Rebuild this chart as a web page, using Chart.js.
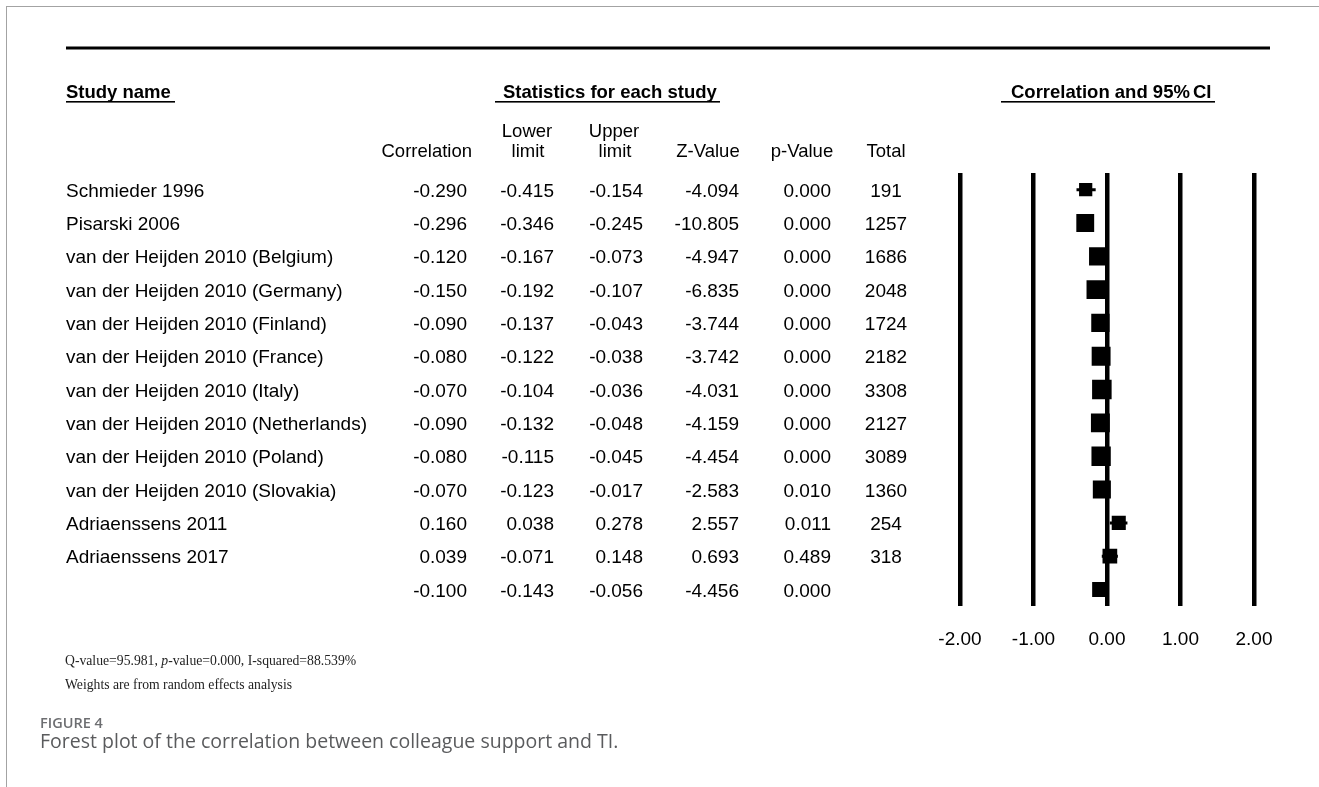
<!DOCTYPE html>
<html>
<head>
<meta charset="utf-8">
<title>Forest plot – colleague support and TI</title>
<script src="https://cdn.jsdelivr.net/npm/chart.js@4.4.1/dist/chart.umd.min.js"></script>
<style>
  html, body { margin: 0; padding: 0; background: #fff; }
  body { width: 1319px; height: 787px; position: relative; overflow: hidden; }
  #frame {
    position: absolute; left: 6px; top: 6px; width: 1320px; height: 790px;
    border-left: 1px solid #a3a3a3; border-top: 1px solid #a3a3a3;
  }
  #plot { position: absolute; left: 0; top: 0; }
  .fig-label {
    position: absolute; left: 40px; top: 713px;
    font: 600 14.5px "Open Sans", "Noto Sans", sans-serif; color: #6d6e71;
  }
  .fig-caption {
    position: absolute; left: 40px; top: 727px;
    font: 400 19.5px "Open Sans", "Noto Sans", sans-serif; color: #5a5b5d;
  }
</style>
</head>
<body>
<div id="frame"></div>
<canvas id="plot" width="1319" height="787"></canvas>
<div class="fig-label">FIGURE 4</div>
<div class="fig-caption">Forest plot of the correlation between colleague support and TI.</div>

<script>
// --- Study data (last row is the pooled estimate) ---
const studyNames = [
  'Schmieder 1996',
  'Pisarski 2006',
  'van der Heijden 2010 (Belgium)',
  'van der Heijden 2010 (Germany)',
  'van der Heijden 2010 (Finland)',
  'van der Heijden 2010 (France)',
  'van der Heijden 2010 (Italy)',
  'van der Heijden 2010 (Netherlands)',
  'van der Heijden 2010 (Poland)',
  'van der Heijden 2010 (Slovakia)',
  'Adriaenssens 2011',
  'Adriaenssens 2017',
  ''
];
const correlation = [-0.290, -0.296, -0.120, -0.150, -0.090, -0.080, -0.070, -0.090, -0.080, -0.070, 0.160, 0.039, -0.100];
const lowerLimit  = [-0.415, -0.346, -0.167, -0.192, -0.137, -0.122, -0.104, -0.132, -0.115, -0.123, 0.038, -0.071, -0.143];
const upperLimit  = [-0.154, -0.245, -0.073, -0.107, -0.043, -0.038, -0.036, -0.048, -0.045, -0.017, 0.278, 0.148, -0.056];
const zValue      = [-4.094, -10.805, -4.947, -6.835, -3.744, -3.742, -4.031, -4.159, -4.454, -2.583, 2.557, 0.693, -4.456];
const pValue      = [0.000, 0.000, 0.000, 0.000, 0.000, 0.000, 0.000, 0.000, 0.000, 0.010, 0.011, 0.489, 0.000];
const totalN      = [191, 1257, 1686, 2048, 1724, 2182, 3308, 2127, 3089, 1360, 254, 318, null];
// relative random-effects weight (%) per study, sets the square size
const weights     = [6.3, 8.5, 8.7, 9.0, 8.7, 9.0, 9.3, 9.0, 9.2, 8.6, 6.7, 7.0, null];
const xTicks = [-2, -1, 0, 1, 2];

const SANS = '"Liberation Sans", Arial, sans-serif';
const SERIF = '"Liberation Serif", "Times New Roman", serif';
const summaryRow = studyNames.length - 1;

// square side in px -> Chart.js 'rect' radius
const sideToRadius = side => side / Math.SQRT2;
const squareRadius = i => i === summaryRow ? sideToRadius(15) : sideToRadius(weights[i] * 2.1);

// confidence interval segments, separated by gaps
const whiskerData = [];
correlation.forEach((_, i) => {
    whiskerData.push({ x: lowerLimit[i], y: i }, { x: upperLimit[i], y: i }, { x: null, y: null });
});

const underline = (ctx, x1, x2, y) => {
    ctx.fillRect(x1, y, x2 - x1, 1.6);
};

// Table columns, header and footnotes drawn next to the plot rows
const tablePlugin = {
    id: 'studyTable',
    afterDraw: (chart) => {
        const { ctx } = chart;
        const yScale = chart.scales.y;
        ctx.save();
        ctx.fillStyle = '#000';
        ctx.textBaseline = 'alphabetic';

        // top rule
        ctx.fillRect(66, 46.5, 1204, 3);

        // group headings
        ctx.font = `bold 18.5px ${SANS}`;
        ctx.textAlign = 'left';
        ctx.fillText('Study name', 66, 97.5);
        underline(ctx, 66, 175, 101);
        ctx.fillText('Statistics for each study', 503, 97.5);
        underline(ctx, 495, 720, 101);
        ctx.fillText('Correlation and 95%\u2006CI', 1011, 97.5);
        underline(ctx, 1001, 1215, 101);

        // column headings
        ctx.font = `18.5px ${SANS}`;
        ctx.textAlign = 'right';
        ctx.fillText('Correlation', 472, 157);
        ctx.textAlign = 'center';
        ctx.fillText('Lower', 527, 136.5);
        ctx.fillText('limit', 528, 157);
        ctx.fillText('Upper', 614, 136.5);
        ctx.fillText('limit', 615, 157);
        ctx.fillText('Z-Value', 708, 157);
        ctx.fillText('p-Value', 802, 157);
        ctx.fillText('Total', 886, 157);

        // one line per study
        ctx.font = `19px ${SANS}`;
        studyNames.forEach((name, i) => {
            const yy = yScale.getPixelForValue(i) + 7;
            ctx.textAlign = 'left';
            ctx.fillText(name, 66, yy);
            ctx.textAlign = 'right';
            ctx.fillText(correlation[i].toFixed(3), 467, yy);
            ctx.fillText(lowerLimit[i].toFixed(3), 554, yy);
            ctx.fillText(upperLimit[i].toFixed(3), 643, yy);
            ctx.fillText(zValue[i].toFixed(3), 739, yy);
            ctx.fillText(pValue[i].toFixed(3), 831, yy);
            if (totalN[i] !== null) {
                ctx.textAlign = 'center';
                ctx.fillText(String(totalN[i]), 886, yy);
            }
        });

        // heterogeneity footnote
        ctx.fillStyle = '#222';
        ctx.textAlign = 'left';
        let x = 65;
        const parts = [
            ['Q-value=95.981, ', ''],
            ['p', 'italic '],
            ['-value=0.000, I-squared=88.539%', '']
        ];
        parts.forEach(([txt, style]) => {
            ctx.font = `${style}13.7px ${SERIF}`;
            ctx.fillText(txt, x, 665);
            x += ctx.measureText(txt).width;
        });
        ctx.font = `13.7px ${SERIF}`;
        ctx.fillText('Weights are from random effects analysis', 65, 688.5);

        ctx.restore();
    }
};

new Chart(document.getElementById('plot'), {
    type: 'scatter',
    data: {
        datasets: [
            {
                label: 'Correlation',
                data: correlation.map((c, i) => ({ x: c, y: i })),
                pointStyle: 'rect',
                pointRadius: (c) => squareRadius(c.dataIndex),
                pointBorderWidth: 0,
                backgroundColor: '#000',
                borderColor: '#000',
                order: 1
            },
            {
                label: '95% CI',
                data: whiskerData,
                showLine: true,
                spanGaps: false,
                borderColor: '#000',
                borderWidth: 3,
                pointRadius: 0,
                order: 2
            }
        ]
    },
    options: {
        responsive: false,
        maintainAspectRatio: false,
        animation: false,
        layout: { padding: { left: 960, right: 65, top: 173, bottom: 114 } },
        plugins: {
            legend: { display: false },
            tooltip: { enabled: false }
        },
        scales: {
            x: {
                type: 'linear',
                min: xTicks[0],
                max: xTicks[xTicks.length - 1],
                z: 1,
                afterBuildTicks: (scale) => {
                    scale.ticks = xTicks.map(v => ({ value: v }));
                },
                grid: { color: '#000', lineWidth: 4.5, drawTicks: false },
                border: { display: false },
                ticks: {
                    padding: 22,
                    color: '#000',
                    maxRotation: 0,
                    font: { family: SANS, size: 19 },
                    callback: (v) => Number(v).toFixed(2)
                }
            },
            y: {
                type: 'linear',
                display: false,
                reverse: true,
                min: -0.5,
                max: studyNames.length - 0.5
            }
        }
    },
    plugins: [tablePlugin]
});
</script>
</body>
</html>
